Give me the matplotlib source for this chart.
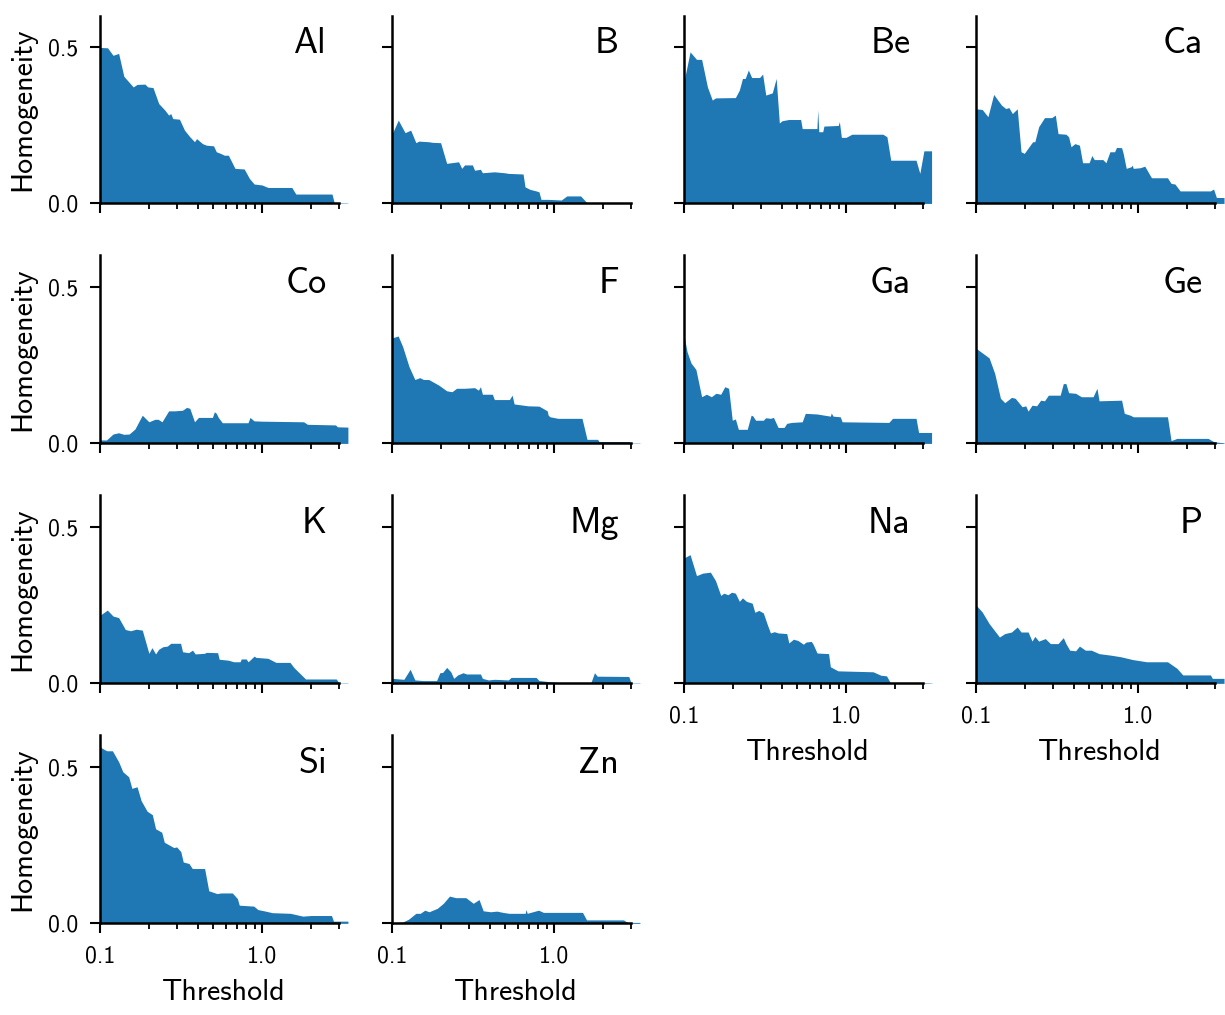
import numpy as np
import matplotlib
matplotlib.use("Agg")
import matplotlib.pyplot as plt
from matplotlib.ticker import FixedLocator, FormatStrFormatter, LogLocator, NullFormatter

plt.rcParams['font.family'] = ['cmss10', 'DejaVu Sans']
plt.rcParams['axes.unicode_minus'] = False

# element names in plotting order
elements = ['Al', 'B', 'Be', 'Ca', 'Co', 'F', 'Ga', 'Ge',
            'K', 'Mg', 'Na', 'P', 'Si', 'Zn']

# threshold / homogeneity pairs
al_t = [0.1, 0.111, 0.12, 0.13, 0.14, 0.16, 0.169, 0.189, 0.197, 0.212, 0.23, 0.251, 0.265, 0.273,
        0.281, 0.309, 0.332, 0.358, 0.383, 0.394, 0.429, 0.453, 0.502, 0.522, 0.553, 0.585, 0.62,
        0.681, 0.777, 0.836, 0.895, 1.0, 1.09, 1.53, 1.62, 2.71, 2.8, 3.4]
al_h = [0.498, 0.497, 0.473, 0.479, 0.406, 0.372, 0.38, 0.381, 0.372, 0.37, 0.319, 0.298, 0.282, 0.287,
        0.271, 0.269, 0.234, 0.213, 0.197, 0.207, 0.191, 0.186, 0.184, 0.165, 0.16, 0.154, 0.154,
        0.112, 0.11, 0.08, 0.062, 0.059, 0.051, 0.051, 0.03, 0.03, 0.002, 0.001]

b_t = [0.1, 0.109, 0.12, 0.13, 0.14, 0.146, 0.168, 0.178, 0.199, 0.217, 0.257, 0.269, 0.28, 0.313,
       0.323, 0.351, 0.361, 0.428, 0.494, 0.522, 0.644, 0.662, 0.71, 0.775, 0.808, 0.831, 0.921,
       1.11, 1.2, 1.46, 1.6, 1.77, 3.4]
b_h = [0.223, 0.266, 0.226, 0.234, 0.194, 0.199, 0.197, 0.195, 0.194, 0.128, 0.133, 0.112, 0.123, 0.123,
       0.106, 0.109, 0.098, 0.101, 0.098, 0.096, 0.094, 0.053, 0.045, 0.04, 0.037, 0.013, 0.013,
       0.011, 0.024, 0.024, 0.002, 0.001, 0.0]

be_t = [0.1, 0.1086, 0.119, 0.128, 0.139, 0.149, 0.156, 0.207, 0.219, 0.229, 0.238, 0.249, 0.261,
        0.292, 0.305, 0.319, 0.35, 0.37, 0.387, 0.402, 0.442, 0.524, 0.536, 0.661, 0.668, 0.679,
        0.718, 0.73, 0.895, 0.91, 0.936, 1.0, 1.087, 1.69, 1.79, 1.89, 2.71, 2.86, 3.03, 3.38]
be_h = [0.394, 0.484, 0.46, 0.46, 0.372, 0.33, 0.337, 0.338, 0.362, 0.399, 0.399, 0.426, 0.402,
        0.402, 0.413, 0.346, 0.353, 0.399, 0.257, 0.264, 0.268, 0.268, 0.239, 0.239, 0.298, 0.229,
        0.229, 0.247, 0.249, 0.261, 0.211, 0.211, 0.221, 0.221, 0.213, 0.138, 0.138, 0.096, 0.168, 0.168]

ca_t = [0.1, 0.1087, 0.118, 0.128, 0.143, 0.152, 0.159, 0.167, 0.179, 0.189, 0.198, 0.223, 0.23,
        0.243, 0.264, 0.292, 0.308, 0.32, 0.358, 0.372, 0.385, 0.407, 0.434, 0.454, 0.498, 0.518,
        0.536, 0.606, 0.633, 0.67, 0.716, 0.736, 0.791, 0.809, 0.845, 0.904, 0.919, 0.934, 1.03,
        1.1, 1.21, 1.52, 1.6, 1.69, 1.82, 2.8, 2.93, 3.05, 3.4]
ca_h = [0.302, 0.3, 0.277, 0.348, 0.314, 0.303, 0.306, 0.287, 0.302, 0.165, 0.16, 0.197, 0.197,
        0.245, 0.274, 0.274, 0.282, 0.223, 0.221, 0.213, 0.181, 0.191, 0.186, 0.13, 0.13, 0.153,
        0.14, 0.14, 0.13, 0.165, 0.165, 0.179, 0.178, 0.16, 0.112, 0.117, 0.122, 0.112, 0.114,
        0.119, 0.082, 0.082, 0.064, 0.062, 0.04, 0.04, 0.046, 0.019, 0.019]

co_t = [0.1, 0.1094, 0.12, 0.13, 0.14, 0.151, 0.164, 0.182, 0.2, 0.218, 0.228, 0.241, 0.265, 0.289,
        0.323, 0.342, 0.358, 0.383, 0.405, 0.494, 0.508, 0.522, 0.537, 0.569, 0.82, 0.844, 0.893,
        1.0, 1.81, 1.91, 2.85, 2.93, 3.4]
co_h = [0.011, 0.011, 0.03, 0.034, 0.029, 0.03, 0.046, 0.09, 0.069, 0.077, 0.077, 0.069, 0.104, 0.104,
        0.106, 0.115, 0.112, 0.069, 0.083, 0.083, 0.101, 0.096, 0.083, 0.066, 0.066, 0.083, 0.072,
        0.071, 0.069, 0.061, 0.059, 0.053, 0.052]

f_t = [0.1, 0.1088, 0.116, 0.127, 0.138, 0.148, 0.156, 0.168, 0.194, 0.217, 0.234, 0.25, 0.28, 0.323,
       0.341, 0.351, 0.361, 0.416, 0.428, 0.53, 0.551, 0.567, 0.692, 0.808, 0.908, 0.921, 0.945,
       1.06, 1.49, 1.6, 1.86, 1.9, 2.9, 3.0, 3.4]
f_h = [0.337, 0.343, 0.309, 0.245, 0.204, 0.21, 0.204, 0.204, 0.186, 0.168, 0.165, 0.176, 0.176, 0.178,
       0.17, 0.181, 0.157, 0.157, 0.14, 0.14, 0.154, 0.126, 0.12, 0.119, 0.104, 0.09, 0.085,
       0.08, 0.08, 0.013, 0.013, 0.006, 0.006, 0.001, 0.001]

ga_t = [0.1, 0.104, 0.11, 0.118, 0.128, 0.137, 0.147, 0.157, 0.168, 0.178, 0.188, 0.198, 0.207,
        0.216, 0.245, 0.259, 0.265, 0.276, 0.308, 0.319, 0.341, 0.356, 0.38, 0.414, 0.43, 0.462,
        0.536, 0.56, 0.661, 0.801, 0.81, 0.832, 0.921, 0.946, 1.84, 1.94, 2.71, 2.81, 3.38]
ga_h = [0.34, 0.293, 0.257, 0.236, 0.149, 0.157, 0.149, 0.16, 0.157, 0.181, 0.176, 0.074, 0.078,
        0.045, 0.045, 0.09, 0.088, 0.074, 0.074, 0.082, 0.08, 0.083, 0.051, 0.051, 0.064, 0.067,
        0.069, 0.096, 0.094, 0.087, 0.097, 0.087, 0.085, 0.069, 0.067, 0.08, 0.08, 0.035, 0.035]

ge_t = [0.1, 0.12, 0.13, 0.141, 0.15, 0.165, 0.174, 0.192, 0.202, 0.209, 0.221, 0.236, 0.25, 0.264,
        0.279, 0.33, 0.345, 0.358, 0.372, 0.411, 0.446, 0.527, 0.557, 0.574, 0.791, 0.822, 0.895,
        0.935, 1.52, 1.6, 1.74, 2.71, 2.95, 3.4]
ge_h = [0.303, 0.273, 0.223, 0.144, 0.13, 0.147, 0.144, 0.117, 0.12, 0.103, 0.122, 0.12, 0.138, 0.136,
        0.154, 0.154, 0.191, 0.191, 0.162, 0.16, 0.149, 0.149, 0.176, 0.136, 0.138, 0.096, 0.09,
        0.085, 0.085, 0.009, 0.016, 0.016, 0.005, 0.002]

k_t = [0.1, 0.1107, 0.12, 0.13, 0.143, 0.154, 0.167, 0.182, 0.2, 0.209, 0.22, 0.23, 0.244, 0.26,
       0.273, 0.314, 0.323, 0.352, 0.372, 0.387, 0.441, 0.453, 0.532, 0.544, 0.62, 0.669, 0.732,
       0.745, 0.798, 0.822, 0.895, 0.918, 1.09, 1.22, 1.49, 1.58, 1.86, 2.88, 3.0, 3.4]
k_h = [0.218, 0.234, 0.215, 0.21, 0.172, 0.168, 0.173, 0.17, 0.096, 0.114, 0.094, 0.109, 0.117, 0.119,
       0.128, 0.128, 0.101, 0.098, 0.106, 0.094, 0.096, 0.099, 0.098, 0.077, 0.074, 0.069, 0.069,
       0.078, 0.078, 0.069, 0.087, 0.083, 0.08, 0.067, 0.067, 0.05, 0.014, 0.014, 0.001, 0.001]

mg_t = [0.1, 0.118, 0.129, 0.138, 0.155, 0.188, 0.197, 0.205, 0.217, 0.23, 0.24, 0.254, 0.274, 0.288,
        0.351, 0.361, 0.393, 0.428, 0.522, 0.543, 0.775, 0.808, 0.955, 1.12, 1.69, 1.78, 1.85,
        2.9, 3.0, 3.4]
mg_h = [0.016, 0.013, 0.045, 0.011, 0.009, 0.009, 0.034, 0.035, 0.051, 0.037, 0.016, 0.027, 0.034, 0.03,
        0.03, 0.016, 0.011, 0.013, 0.011, 0.019, 0.019, 0.009, 0.005, 0.002, 0.002, 0.034, 0.023,
        0.022, 0.001, 0.001]

na_t = [0.1, 0.1086, 0.119, 0.13, 0.145, 0.156, 0.168, 0.176, 0.186, 0.196, 0.207, 0.219, 0.229,
        0.242, 0.263, 0.273, 0.289, 0.308, 0.326, 0.341, 0.36, 0.381, 0.43, 0.443, 0.473, 0.504,
        0.545, 0.566, 0.61, 0.626, 0.662, 0.78, 0.8, 0.892, 1.47, 1.64, 1.78, 1.88, 2.94, 3.4]
na_h = [0.401, 0.411, 0.344, 0.352, 0.355, 0.328, 0.281, 0.288, 0.283, 0.291, 0.288, 0.262, 0.273,
        0.262, 0.256, 0.227, 0.233, 0.225, 0.188, 0.161, 0.165, 0.161, 0.159, 0.129, 0.141, 0.137,
        0.125, 0.132, 0.134, 0.125, 0.097, 0.095, 0.053, 0.04, 0.037, 0.026, 0.024, 0.002, 0.002, 0.001]

p_t = [0.1, 0.1087, 0.12, 0.139, 0.15, 0.165, 0.179, 0.189, 0.209, 0.221, 0.23, 0.243, 0.267, 0.287,
       0.32, 0.345, 0.358, 0.378, 0.411, 0.434, 0.472, 0.514, 0.574, 0.68, 0.782, 0.926, 1.13,
       1.52, 1.74, 1.89, 2.8, 2.88, 3.4]
p_h = [0.249, 0.228, 0.191, 0.148, 0.159, 0.164, 0.18, 0.164, 0.164, 0.135, 0.15, 0.135, 0.143, 0.127,
       0.127, 0.146, 0.127, 0.106, 0.104, 0.119, 0.106, 0.106, 0.095, 0.09, 0.085, 0.076, 0.069,
       0.069, 0.048, 0.027, 0.027, 0.016, 0.016]

si_t = [0.1, 0.106, 0.11, 0.119, 0.13, 0.138, 0.15, 0.157, 0.169, 0.179, 0.195, 0.21, 0.22, 0.24,
        0.249, 0.285, 0.297, 0.315, 0.326, 0.354, 0.371, 0.442, 0.469, 0.527, 0.558, 0.656, 0.705,
        0.724, 0.89, 0.944, 1.03, 1.16, 1.5, 1.79, 2.01, 2.69, 2.77, 3.4]
si_h = [0.563, 0.555, 0.551, 0.551, 0.516, 0.484, 0.468, 0.431, 0.436, 0.392, 0.358, 0.347, 0.302, 0.291,
        0.259, 0.242, 0.244, 0.229, 0.196, 0.191, 0.175, 0.175, 0.104, 0.095, 0.097, 0.097, 0.079,
        0.058, 0.055, 0.044, 0.04, 0.034, 0.032, 0.023, 0.025, 0.025, 0.007, 0.007]

zn_t = [0.1, 0.1157, 0.126, 0.14, 0.149, 0.159, 0.169, 0.19, 0.207, 0.226, 0.247, 0.285, 0.317, 0.344,
        0.365, 0.405, 0.443, 0.483, 0.527, 0.664, 0.671, 0.683, 0.803, 0.86, 1.5, 1.59, 2.69, 2.85, 3.4]
zn_h = [0.002, 0.004, 0.013, 0.032, 0.032, 0.042, 0.037, 0.048, 0.064, 0.087, 0.082, 0.082, 0.064, 0.076,
        0.04, 0.037, 0.039, 0.035, 0.032, 0.032, 0.044, 0.032, 0.042, 0.035, 0.035, 0.011, 0.011, 0.003, 0.003]

thresholds = [al_t, b_t, be_t, ca_t, co_t, f_t, ga_t, ge_t, k_t, mg_t, na_t, p_t, si_t, zn_t]
homogeneity = [al_h, b_h, be_h, ca_h, co_h, f_h, ga_h, ge_h, k_h, mg_h, na_h, p_h, si_h, zn_h]

fig, axes = plt.subplots(4, 4, figsize=(12.25, 10.15), dpi=100)
fig.subplots_adjust(left=0.0818, right=0.9992, bottom=0.0903, top=0.9847, wspace=0.179, hspace=0.277)

n = len(elements)
for i, ax in enumerate(axes.flat):
    if i >= n:
        ax.remove()
        continue
    row, col = divmod(i, 4)
    x = np.array(thresholds[i])
    y = np.array(homogeneity[i])
    ax.fill_between(x, y, 0, color='#1f77b4', lw=0)
    ax.set_xscale('log')
    ax.set_xlim(0.1, 3.4)
    ax.set_ylim(0, 0.6)
    ax.text(0.915, 0.80, elements[i], transform=ax.transAxes, ha='right', va='baseline', fontsize=26)

    for s in ['top', 'right']:
        ax.spines[s].set_visible(False)
    for s in ['left', 'bottom']:
        ax.spines[s].set_linewidth(1.8)
    ax.spines['bottom'].set_bounds(0.1, 3.0)

    ax.xaxis.set_major_locator(FixedLocator([0.1, 1.0]))
    ax.xaxis.set_minor_locator(LogLocator(base=10, subs=np.arange(2, 10), numticks=10))
    ax.xaxis.set_minor_formatter(NullFormatter())
    ax.xaxis.set_major_formatter(FormatStrFormatter('%.1f'))
    ax.yaxis.set_major_locator(FixedLocator([0.0, 0.5]))
    ax.yaxis.set_major_formatter(FormatStrFormatter('%.1f'))
    ax.tick_params(which='major', length=7.5, width=1.5, labelsize=17)
    ax.tick_params(axis='x', which='major', pad=8.4)
    ax.tick_params(axis='y', which='major', pad=8.0)
    ax.tick_params(which='minor', length=4, width=1.3)

    bottom = (i + 4 >= n)
    if not bottom:
        ax.tick_params(axis='x', labelbottom=False)
    else:
        ax.set_xlabel('Threshold', fontsize=21.5)
        ax.xaxis.set_label_coords(0.5, -0.298)
    if col == 0:
        ax.set_ylabel('Homogeneity', fontsize=21.5)
        ax.yaxis.set_label_coords(-0.258, 0.5)
    else:
        ax.tick_params(axis='y', labelleft=False)

fig.savefig('out.png', dpi=100)
